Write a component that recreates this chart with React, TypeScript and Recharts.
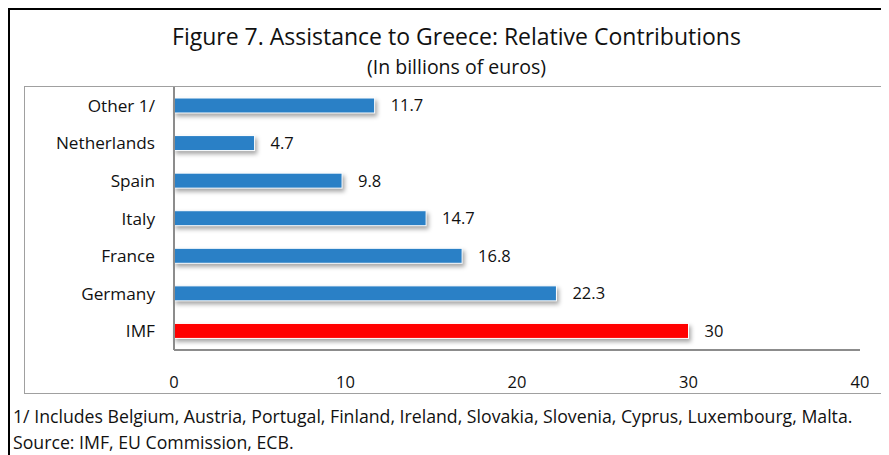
import { BarChart, Bar, XAxis, YAxis, Cell, LabelList } from "recharts";

const categories = ["Other 1/", "Netherlands", "Spain", "Italy", "France", "Germany", "IMF"];
const amounts = [11.7, 4.7, 9.8, 14.7, 16.8, 22.3, 30];
const xTicks = [0, 10, 20, 30, 40];

const BLUE = "#2a80c6";
const RED = "#ff0000";
const FONT = "'Open Sans', 'Noto Sans', sans-serif";

const data = categories.map((name, i) => ({ name, value: amounts[i] }));

const ShadowBar = (props: any) => {
  const { x, y, width, height, fill } = props;
  return (
    <rect
      x={x}
      y={y}
      width={width}
      height={height}
      fill={fill}
      stroke="#ffffff"
      strokeWidth={1}
      style={{ filter: "drop-shadow(2px 3px 2px rgba(0,0,0,0.35))" }}
    />
  );
};

export default function App() {
  return (
    <div
      style={{
        position: "relative",
        width: 881,
        height: 447,
        borderLeft: "2px solid #000",
        borderTop: "2px solid #000",
        boxSizing: "border-box",
        fontFamily: FONT,
        color: "#111",
        background: "#fff",
      }}
    >
      <div
        style={{
          position: "absolute",
          left: 14,
          top: 76,
          width: 865,
          height: 308,
          border: "1px solid #a0a0a0",
          boxSizing: "border-box",
        }}
      />
      <div style={{ position: "absolute", left: 14, width: 865, top: 10, textAlign: "center", fontSize: 23, lineHeight: "32px" }}>
        Figure 7. Assistance to Greece: Relative Contributions
      </div>
      <div style={{ position: "absolute", left: 14, width: 865, top: 43, textAlign: "center", fontSize: 19.5, lineHeight: "28px" }}>
        (In billions of euros)
      </div>
      <div style={{ position: "absolute", left: 15, top: 77 }}>
        <BarChart
          width={862}
          height={305}
          data={data}
          layout="vertical"
          margin={{ top: 0, right: 27, bottom: 0, left: 0 }}
          barCategoryGap="30%"
        >
          <XAxis
            type="number"
            domain={[0, 40]}
            ticks={xTicks}
            height={42}
            tickLine={false}
            axisLine={{ stroke: "#8c8c8c", strokeWidth: 2 }}
            tickMargin={20}
            tick={{ fill: "#111", fontSize: 16.5, fontFamily: FONT }}
            interval={0}
          />
          <YAxis
            type="category"
            dataKey="name"
            width={149}
            tickLine={false}
            axisLine={{ stroke: "#8c8c8c", strokeWidth: 2 }}
            tickMargin={13}
            tick={{ fill: "#111", fontSize: 17.2, fontFamily: FONT }}
            interval={0}
          />
          <Bar dataKey="value" barSize={15} shape={<ShadowBar />} isAnimationActive={false}>
            {data.map((d) => (
              <Cell key={d.name} fill={d.name === "IMF" ? RED : BLUE} />
            ))}
            <LabelList
              dataKey="value"
              position="right"
              offset={16}
              style={{ fill: "#111", fontSize: 16.5, fontFamily: FONT }}
            />
          </Bar>
        </BarChart>
      </div>
      <div style={{ position: "absolute", left: 3, top: 393, fontSize: 17.7, lineHeight: "26px", whiteSpace: "nowrap" }}>
        1/ Includes Belgium, Austria, Portugal, Finland, Ireland, Slovakia, Slovenia, Cyprus, Luxembourg, Malta.
        <br />
        Source: IMF, EU Commission, ECB.
      </div>
    </div>
  );
}
